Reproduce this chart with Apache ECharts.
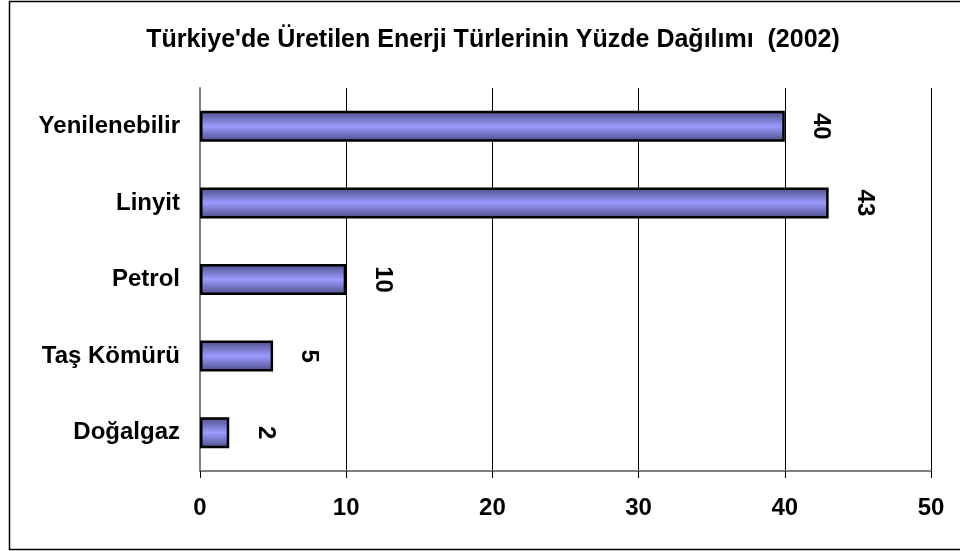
<!DOCTYPE html>
<html>
<head>
<meta charset="utf-8">
<script src="https://cdn.jsdelivr.net/npm/echarts@6/dist/echarts.min.js"></script>
<style>
html,body{margin:0;padding:0;background:#fff;}
#chart{width:960px;height:551px;}
</style>
</head>
<body>
<div id="chart"></div>
<script>
const titleText = "Türkiye'de Üretilen Enerji Türlerinin Yüzde Dağılımı  (2002)";
const categories = ["Yenilenebilir", "Linyit", "Petrol", "Taş Kömürü", "Doğalgaz"];
const values = [40, 43, 10, 5, 2];
const xTicks = [0, 10, 20, 30, 40, 50];

const FONT = '"Liberation Sans", Arial, sans-serif';
const chart = echarts.init(document.getElementById('chart'), null, {renderer: 'canvas'});
chart.setOption({
  backgroundColor: '#ffffff',
  animation: false,
  title: {
    text: titleText,
    left: 488,
    textAlign: 'center',
    top: 23,
    textStyle: {fontFamily: FONT, fontWeight: 'bold', fontSize: 25, color: '#000'}
  },
  graphic: [{
    type: 'rect',
    shape: {x: 9.5, y: 1.5, width: 970, height: 548},
    style: {fill: 'none', stroke: '#000', lineWidth: 1.5},
    silent: true
  }],
  grid: {left: 200, right: 29, top: 88, bottom: 80, containLabel: false},
  xAxis: {
    type: 'value',
    min: xTicks[0],
    max: xTicks[xTicks.length - 1],
    interval: xTicks[1] - xTicks[0],
    axisLine: {show: true, lineStyle: {color: '#808080', width: 2}},
    axisTick: {show: true, length: 7, lineStyle: {color: '#000', width: 1}},
    splitLine: {show: true, lineStyle: {color: '#000', width: 1}},
    axisLabel: {fontFamily: FONT, fontWeight: 'bold', fontSize: 24, color: '#000', margin: 25}
  },
  yAxis: {
    type: 'category',
    data: categories,
    inverse: true,
    axisLine: {show: true, lineStyle: {color: '#808080', width: 2}},
    axisTick: {show: false},
    splitLine: {show: false},
    axisLabel: {fontFamily: FONT, fontWeight: 'bold', fontSize: 24, color: '#000', margin: 20}
  },
  series: [{
    type: 'bar',
    data: values,
    barWidth: 31,
    itemStyle: {
      color: new echarts.graphic.LinearGradient(0, 0, 0, 1, [
        {offset: 0, color: '#4c4c86'},
        {offset: 0.5, color: '#9b9bff'},
        {offset: 1, color: '#4c4c86'}
      ]),
      borderColor: '#000',
      borderWidth: 2.5
    },
    label: {
      show: true,
      position: 'right',
      distance: 36,
      rotate: -90,
      align: 'center',
      verticalAlign: 'middle',
      fontFamily: FONT,
      fontWeight: 'bold',
      fontSize: 24,
      color: '#000'
    }
  }]
});
</script>
</body>
</html>
